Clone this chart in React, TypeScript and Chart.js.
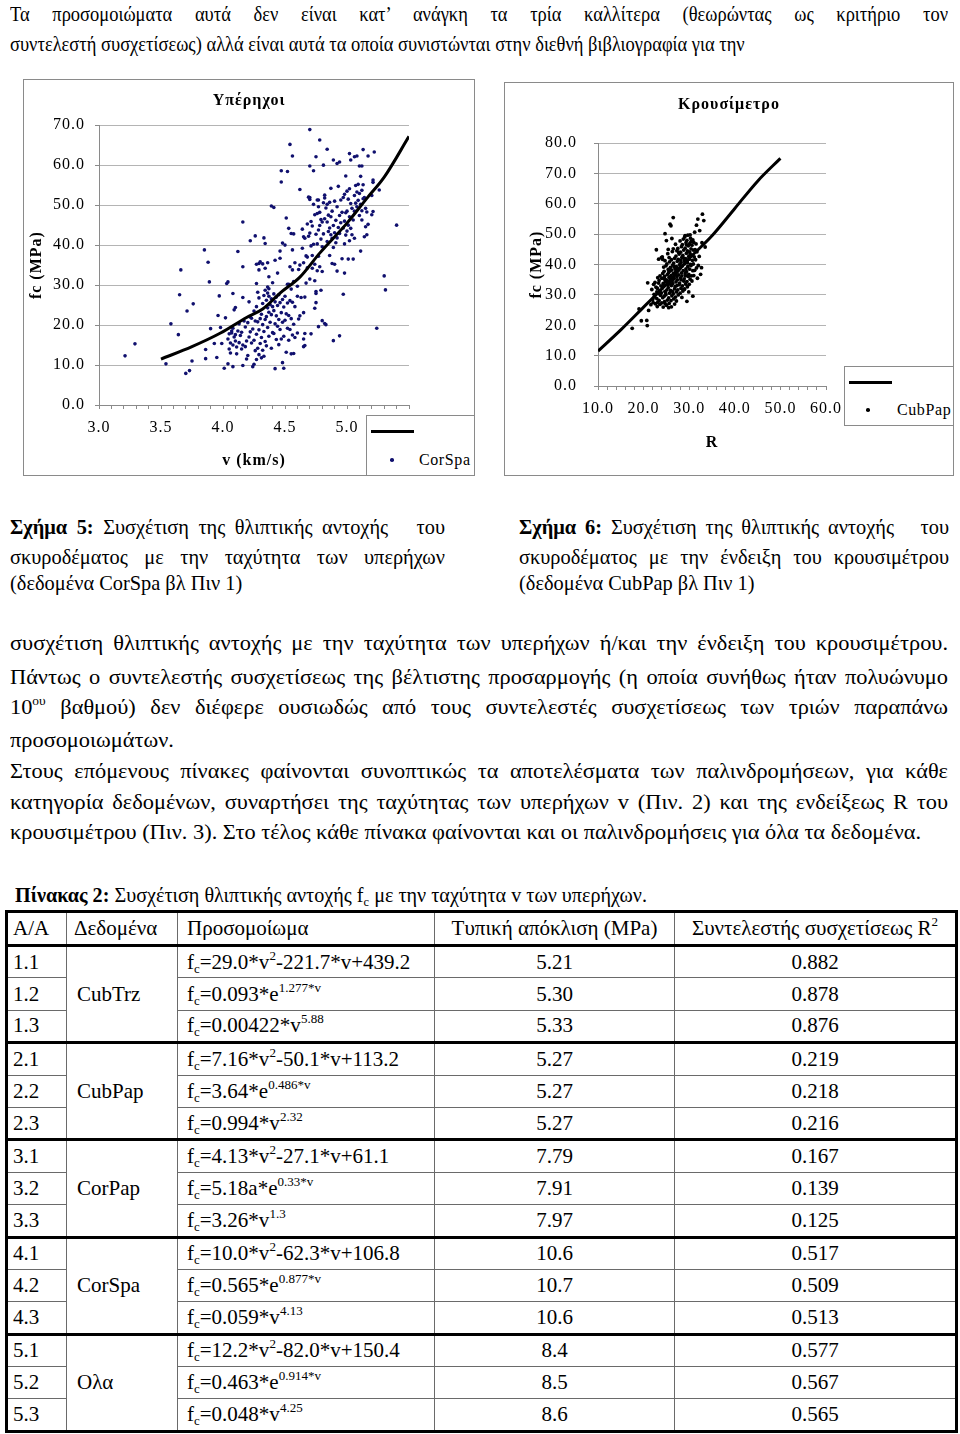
import React, { useEffect, useRef } from "react";
import { Chart, registerables } from "chart.js";
Chart.register(...registerables);

const SERIF = '"Liberation Serif", "Times New Roman", Times, serif';

// ---------- Chart data ----------
const corSpaPoints: number[][] = [
  [3.21,12.3],[3.29,15.3],[3.54,10.3],[3.58,20.3],[3.64,17.6],[3.65,27.6],[3.66,33.8],[3.71,23.5],[3.70,7.9],[3.73,8.6],
  [3.75,11.0],[3.76,25.3],[3.85,38.8],[3.86,13.9],[3.86,11.6],[3.88,35.7],[3.89,30.8],[3.90,19.1],[3.93,15.4],[3.95,11.9],
  [3.97,27.3],[3.96,22.4],[3.98,19.4],[3.99,15.4],[4.01,9.2],[4.02,21.8],[4.03,30.4],[4.04,30.8],[4.04,10.3],[4.08,9.6],
  [4.12,38.4],[4.08,27.9],[4.09,23.8],[4.10,24.4],[4.16,45.8],[4.16,34.6],[4.16,26.9],[4.16,9.9],[4.21,25.8],[4.22,41.1],
  [4.26,42.3],[4.24,9.6],[4.27,30.4],[4.29,35.4],[4.29,33.8],[4.30,35.8],[4.33,41.8],[4.34,40.4],[4.36,35.6],[4.37,29.1],
  [4.39,49.8],[4.41,49.4],[4.37,32.1],[4.42,9.1],[4.46,36.7],[4.47,55.8],[4.47,58.6],[4.49,9.2],[4.48,10.6],[4.51,46.8],
  [4.52,58.4],[4.54,65.2],[4.56,62.3],[4.53,44.2],[4.55,42.9],[4.57,42.8],[4.56,38.8],[4.57,12.9],[4.62,53.9],[4.64,39.2],
  [4.65,23.1],[4.65,14.6],[4.66,17.9],[4.65,42.1],[4.70,68.9],[4.70,59.8],[4.70,51.9],[4.73,58.6],[4.75,62.1],[4.78,66.3],
  [4.76,51.3],[4.77,49.6],[4.81,60.0],[4.84,64.0],[4.82,52.5],[4.87,54.2],[4.89,61.3],[4.92,60.4],[4.94,60.8],[5.02,62.9],
  [5.03,61.3],[5.06,62.1],[5.08,62.3],[5.13,63.9],[5.12,59.8],[5.17,62.3],[5.22,63.3],[5.21,56.3],[5.26,53.8],[5.40,45.0],
  [5.30,32.3],[5.31,28.8],[5.24,19.2],[4.97,27.7],[4.94,17.3],[4.89,16.1],[4.82,20.4],[4.80,21.1],[4.77,19.6],[4.75,27.9],
  [4.74,31.1],[4.72,34.2],[4.71,17.8],[4.66,14.9],
  [4.05,14.0],[4.06,15.5],[4.04,16.5],[4.05,17.8],[4.07,18.5],[4.06,13.0],[4.08,15.0],[4.09,17.0],[4.07,18.0],[4.08,19.2],
  [4.10,16.0],[4.11,14.5],[4.10,17.6],[4.12,18.5],[4.11,12.8],[4.13,15.6],[4.14,17.4],[4.13,20.3],[4.15,14.0],[4.16,15.0],
  [4.15,18.2],[4.17,21.0],[4.18,14.6],[4.19,16.0],[4.18,19.5],[4.19,11.5],[4.20,12.4],[4.21,17.0],[4.20,20.6],[4.22,22.0],
  [4.23,15.5],[4.22,18.3],[4.23,21.7],[4.25,10.2],[4.26,13.6],[4.25,16.2],[4.24,19.0],[4.26,21.0],[4.25,23.5],[4.27,11.4],
  [4.28,14.2],[4.27,17.7],[4.28,20.8],[4.27,24.6],[4.28,28.2],[4.29,12.6],[4.30,15.4],[4.29,18.8],[4.30,21.6],[4.29,26.8],
  [4.31,11.8],[4.32,13.7],[4.31,16.9],[4.32,20.1],[4.31,22.7],[4.32,25.4],[4.33,12.2],[4.34,15.9],[4.33,18.4],[4.34,21.4],
  [4.33,27.4],[4.34,28.7],[4.35,14.8],[4.36,19.4],[4.35,22.1],[4.36,24.3],[4.35,26.2],[4.36,29.5],[4.37,17.2],[4.38,20.7],
  [4.37,23.2],[4.38,25.1],[4.37,27.2],[4.39,14.2],[4.40,18.1],[4.39,22.6],[4.40,24.6],[4.39,26.6],[4.41,17.9],[4.42,20.3],
  [4.41,23.6],[4.42,25.8],[4.41,27.8],[4.43,16.4],[4.44,19.7],[4.43,22.3],[4.44,24.9],[4.43,27.0],[4.45,15.1],[4.46,18.9],
  [4.45,21.4],[4.46,25.6],[4.45,27.6],[4.47,16.5],[4.48,20.7],[4.47,23.1],[4.48,26.4],[4.49,17.2],[4.50,21.2],[4.49,24.5],
  [4.50,27.2],[4.51,13.2],[4.52,19.2],[4.51,22.8],[4.52,25.5],[4.53,16.2],[4.54,18.9],[4.53,22.4],[4.54,26.1],[4.53,30.2],
  [4.55,12.8],[4.56,17.5],[4.55,21.6],[4.56,25.7],[4.55,29.0],[4.58,16.9],[4.57,20.2],[4.58,24.6],[4.57,30.9],[4.60,18.0],
  [4.61,21.5],[4.60,27.2],[4.61,33.9],[4.62,22.3],[4.63,26.9],[4.62,35.0],[4.65,16.5],[4.66,27.0],[4.65,35.6],[4.66,41.7],
  [4.67,30.5],[4.68,34.3],[4.67,37.3],
  [4.68,37.0],[4.69,42.2],[4.68,45.3],[4.69,52.0],[4.70,31.5],[4.71,39.8],[4.70,43.0],[4.71,45.9],[4.70,51.4],[4.72,37.4],
  [4.73,40.2],[4.72,44.8],[4.73,50.2],[4.74,35.2],[4.75,42.7],[4.74,47.6],[4.75,28.4],[4.74,24.2],[4.75,25.6],[4.76,33.6],
  [4.77,37.2],[4.76,40.3],[4.77,43.8],[4.76,47.9],[4.77,51.3],[4.78,34.6],[4.79,41.5],[4.78,44.9],[4.79,46.4],[4.78,48.2],
  [4.79,28.7],[4.80,39.6],[4.81,42.8],[4.80,45.8],[4.81,50.6],[4.80,33.4],[4.82,46.6],[4.83,49.3],[4.82,51.8],[4.83,20.1],
  [4.84,40.9],[4.85,43.4],[4.84,45.8],[4.85,47.5],[4.84,50.2],[4.86,37.4],[4.87,42.6],[4.86,44.3],[4.87,47.1],[4.86,50.7],
  [4.88,35.4],[4.89,39.4],[4.88,41.7],[4.89,44.9],[4.88,48.5],[4.90,35.2],[4.91,40.6],[4.90,43.1],[4.91,46.2],[4.90,51.0],
  [4.92,41.8],[4.93,44.4],[4.92,49.6],[4.93,54.7],[4.92,33.5],[4.94,42.9],[4.95,45.6],[4.94,47.4],[4.95,51.3],[4.96,36.6],
  [4.97,44.3],[4.96,48.2],[4.97,51.9],[4.98,40.3],[4.99,42.5],[4.98,46.0],[4.99,48.1],[4.98,52.7],[4.99,57.3],[4.98,33.0],
  [5.00,43.5],[5.01,45.0],[5.00,48.5],[5.01,51.5],[5.00,53.5],[5.01,36.5],[5.02,41.1],[5.03,44.2],[5.02,47.1],[5.03,50.4],
  [5.02,54.1],[5.04,42.6],[5.05,46.3],[5.04,49.2],[5.05,36.5],[5.06,48.5],[5.07,50.5],[5.06,52.4],[5.07,54.9],[5.06,41.7],
  [5.08,49.6],[5.09,51.2],[5.08,53.3],[5.09,55.2],[5.10,47.4],[5.11,50.2],[5.10,52.9],[5.11,57.2],[5.10,59.8],[5.11,38.5],
  [5.12,48.6],[5.13,51.6],[5.12,53.7],[5.13,55.1],[5.12,46.3],[5.14,42.1],[5.15,44.6],[5.14,51.9],[5.15,49.2],[5.16,42.6],
  [5.17,45.2],[5.16,48.3],[5.20,47.6],[5.21,48.4],[5.20,52.4],[5.21,55.7],
  [4.32,35.3],[4.34,34.2],[4.36,28.0],[4.42,36.2],[4.44,33.0],[4.48,40.5],[4.50,40.0],[4.52,30.2],[4.54,34.6],[4.56,33.8],
  [4.58,35.6],[4.60,29.7],[4.64,44.0],[4.46,38.5],[4.40,30.6],[4.27,35.2],
];

const corSpaFit: number[][] = [
  [3.50,11.5],[3.75,14.6],[3.98,18.0],[4.19,21.9],[4.32,24.0],[4.46,28.0],[4.62,32.0],[4.78,38.0],[5.00,45.5],[5.16,51.7],[5.30,57.0],[5.50,67.2],
];

const cubPapPoints: number[][] = [
  [17.5,19.0],[19.0,25.4],[19.5,21.5],[20.7,21.6],[20.8,19.9],[21.1,24.9],[20.9,34.0],[22.8,44.9],[24.7,50.2],[26.5,55.5],
  [25.8,53.3],[32.9,56.6],[31.9,55.0],[33.2,54.5],[31.6,53.0],[32.7,39.0],[30.8,29.6],[29.5,27.9],[26.1,26.1],[24.7,27.2],
  [21.6,26.8],[22.1,27.5],[32.3,51.2],[31.2,50.7],[24.2,41.7],[23.9,42.3],[33.5,45.8],[32.8,47.2],[26.0,52.8],[25.4,45.0],
  [29.1,49.5],[30.2,49.8],
  [22.0,28.5],[22.3,30.2],[21.8,31.8],[22.2,33.5],[22.6,27.1],[22.4,29.4],[22.9,31.0],[22.7,32.6],[22.5,34.1],
  [23.1,27.6],[22.9,28.8],[23.2,30.5],[23.0,32.2],[23.3,33.9],[23.1,35.7],[23.6,26.9],[23.4,28.2],[23.7,29.9],[23.5,31.4],
  [23.8,33.0],[23.4,34.8],[23.6,36.3],[23.3,41.8],
  [24.0,27.4],[24.2,29.1],[23.9,30.7],[24.1,32.3],[24.3,33.8],[24.0,35.5],[24.2,37.1],[24.4,39.2],[24.1,42.5],[24.6,27.8],
  [24.5,29.6],[24.7,31.2],[24.4,32.9],[24.8,34.4],[24.6,36.1],[24.5,37.8],[24.9,39.6],[24.7,41.3],
  [25.0,26.6],[25.2,28.3],[24.9,30.1],[25.1,31.7],[25.3,33.3],[25.0,35.0],[25.2,36.7],[25.4,38.4],[25.1,40.2],[25.3,43.6],
  [25.0,47.9],[25.6,27.2],[25.5,29.0],[25.7,30.6],[25.4,32.4],[25.8,34.0],[25.6,35.8],[25.5,37.4],[25.9,39.1],[25.7,40.9],[25.6,42.3],
  [26.0,28.1],[26.2,29.7],[25.9,31.5],[26.1,33.1],[26.3,34.8],[26.0,36.4],[26.2,38.2],[26.4,39.9],[26.1,41.6],[26.3,44.3],
  [26.2,48.6],[26.6,28.7],[26.5,30.4],[26.8,32.0],[26.4,33.7],[26.7,35.4],[26.5,37.0],[26.9,38.7],[26.6,40.5],[26.8,42.1],[26.5,45.2],
  [27.0,29.3],[27.2,31.0],[26.9,32.7],[27.1,34.3],[27.3,36.0],[27.0,37.7],[27.2,39.3],[27.4,41.1],[27.1,42.8],[27.3,44.6],
  [27.0,46.7],[27.6,30.0],[27.5,31.7],[27.8,33.4],[27.4,35.0],[27.7,36.6],[27.5,38.3],[27.9,40.0],[27.6,41.7],[27.8,43.5],[27.5,45.3],
  [28.0,30.6],[28.2,32.2],[27.9,33.9],[28.1,35.6],[28.3,37.3],[28.0,39.0],[28.2,40.7],[28.4,42.4],[28.1,44.1],[28.3,45.9],
  [28.0,47.8],[28.6,31.3],[28.5,33.0],[28.8,34.6],[28.4,36.3],[28.7,38.0],[28.5,39.6],[28.9,41.3],[28.6,43.0],[28.8,44.8],
  [28.5,46.6],[28.7,48.4],
  [29.0,32.0],[29.2,33.6],[28.9,35.3],[29.1,37.0],[29.3,38.6],[29.0,40.3],[29.2,42.0],[29.4,43.7],[29.1,45.4],[29.3,47.2],
  [29.0,49.1],[29.6,32.7],[29.5,34.4],[29.8,36.1],[29.4,37.7],[29.7,39.4],[29.5,41.1],[29.9,42.7],[29.6,44.5],[29.8,46.2],
  [29.5,48.0],[29.7,49.7],
  [30.0,33.5],[30.2,35.2],[29.9,36.8],[30.1,38.5],[30.3,40.1],[30.0,41.8],[30.2,43.5],[30.4,45.2],[30.1,46.9],[30.3,48.7],
  [30.6,34.6],[30.5,36.3],[30.8,38.0],[30.4,39.7],[30.7,41.4],[30.5,43.1],[30.9,44.8],[30.6,46.4],[30.8,48.1],
  [31.0,36.4],[31.2,38.1],[30.9,40.2],[31.1,42.5],[31.3,44.9],[31.0,47.3],[31.6,38.9],[31.4,41.6],[31.7,44.2],[31.5,46.8],
  [32.0,39.7],[32.2,42.7],[23.0,26.2],[24.3,26.0],[25.5,25.8],[26.8,27.0],[27.2,28.0],[28.4,29.2],[29.9,31.0],[31.8,35.5],[32.5,36.8],
  [24.8,30.8],[25.3,34.6],[25.8,37.9],[26.3,31.2],[26.7,39.4],[27.3,33.1],[27.7,44.0],[28.2,35.0],[28.7,42.2],[29.2,36.3],
  [29.6,40.7],[30.1,44.2],[26.9,36.9],[27.4,38.8],[28.1,41.5],[25.9,33.6],[24.6,35.2],[29.4,46.5],[30.4,47.6],[28.9,31.8],
];

const cubPapFit: number[][] = [
  [10,11.5],[15,18.5],[20,26.0],[25,33.5],[30,42.0],[35,49.5],[40,58.5],[45,67.5],[50,75.0],
];

// ---------- Table data ----------
const rowIds = ["1.1","1.2","1.3","2.1","2.2","2.3","3.1","3.2","3.3","4.1","4.2","4.3","5.1","5.2","5.3"];
const groupNames = ["CubTrz","CubPap","CorPap","CorSpa","Ολα"];
const formulas = [
  "f_{c}=29.0*v^{2}-221.7*v+439.2","f_{c}=0.093*e^{1.277*v}","f_{c}=0.00422*v^{5.88}",
  "f_{c}=7.16*v^{2}-50.1*v+113.2","f_{c}=3.64*e^{0.486*v}","f_{c}=0.994*v^{2.32}",
  "f_{c}=4.13*v^{2}-27.1*v+61.1","f_{c}=5.18a*e^{0.33*v}","f_{c}=3.26*v^{1.3}",
  "f_{c}=10.0*v^{2}-62.3*v+106.8","f_{c}=0.565*e^{0.877*v}","f_{c}=0.059*v^{4.13}",
  "f_{c}=12.2*v^{2}-82.0*v+150.4","f_{c}=0.463*e^{0.914*v}","f_{c}=0.048*v^{4.25}",
];
const stdDevs = ["5.21","5.30","5.33","5.27","5.27","5.27","7.79","7.91","7.97","10.6","10.7","10.6","8.4","8.5","8.6"];
const r2Values = ["0.882","0.878","0.876","0.219","0.218","0.216","0.167","0.139","0.125","0.517","0.509","0.513","0.577","0.567","0.565"];

// ---------- Chart component ----------
type Axis = { min: number; max: number; step: number; minor: number; title: string };
type Spec = {
  w: number; h: number; title: string; label: string; dot: string; dotR: number;
  points: number[][]; fit: number[][]; x: Axis; y: Axis;
  padRight: number; titlePad: [number, number]; yWidth: number; yTitlePad: number; yTickPad: number;
  xHeight: number; xTitlePad: number;
};

const LS = "1px";

function ScatterChart({ spec }: { spec: Spec }) {
  const ref = useRef<HTMLCanvasElement>(null);
  useEffect(() => {
    const f = (size: number, bold = false) => ({ family: SERIF, size, weight: bold ? ("bold" as const) : ("normal" as const), lineHeight: 1.2 });
    const spacing = {
      id: "letterSpacing",
      beforeUpdate(c: any) { c.ctx.letterSpacing = LS; },
      beforeDraw(c: any) { c.ctx.letterSpacing = LS; },
    };
    const sx = spec.x, sy = spec.y;
    const chart = new Chart(ref.current as HTMLCanvasElement, {
      type: "scatter",
      data: {
        datasets: [
          {
            label: "fit",
            data: spec.fit.map(([x, y]) => ({ x, y })),
            showLine: true,
            borderColor: "#000",
            borderWidth: 3,
            pointRadius: 0,
            cubicInterpolationMode: "monotone",
            fill: false,
          } as any,
          {
            label: spec.label,
            data: spec.points.map(([x, y]) => ({ x, y })),
            pointRadius: spec.dotR,
            pointBackgroundColor: spec.dot,
            pointBorderWidth: 0,
            showLine: false,
          } as any,
        ],
      },
      options: {
        animation: false,
        responsive: false,
        maintainAspectRatio: false,
        events: [],
        layout: { padding: 0 },
        plugins: {
          legend: { display: false },
          tooltip: { enabled: false },
          title: {
            display: true,
            text: spec.title,
            color: "#000",
            font: f(16, true),
            padding: { top: spec.titlePad[0], bottom: spec.titlePad[1] },
          },
        },
        scales: {
          x: {
            type: "linear",
            min: sx.min,
            max: sx.max,
            afterFit: (s: any) => { s.height = spec.xHeight; },
            afterBuildTicks: (s: any) => {
              const t: { value: number }[] = [];
              const n = Math.round((sx.max - sx.min) / sx.minor);
              for (let i = 0; i <= n; i++) t.push({ value: +(sx.min + i * sx.minor).toFixed(4) });
              s.ticks = t;
            },
            ticks: {
              autoSkip: false,
              maxRotation: 0,
              minRotation: 0,
              padding: 9,
              color: "#000",
              font: f(16),
              callback: (v: any) => {
                const k = (Number(v) - sx.min) / sx.step;
                return Math.abs(k - Math.round(k)) < 1e-6 ? Number(v).toFixed(1) : "";
              },
            },
            grid: { drawOnChartArea: false, drawTicks: true, tickLength: 4, color: "#8a8a8a" },
            border: { display: true, color: "#8a8a8a", width: 1 },
            title: { display: true, text: sx.title, color: "#000", font: f(16, true), padding: { top: 0, bottom: spec.xTitlePad } },
          },
          y: {
            type: "linear",
            position: "left",
            min: sy.min,
            max: sy.max,
            afterFit: (s: any) => { s.width = spec.yWidth; },
            ticks: {
              stepSize: sy.step,
              padding: spec.yTickPad,
              color: "#000",
              font: f(16),
              callback: (v: any) => Number(v).toFixed(1),
            },
            grid: { color: "#b4b4b4", lineWidth: 1, tickLength: 4, tickColor: "#8a8a8a" },
            border: { display: true, color: "#8a8a8a", width: 1 },
            title: { display: true, text: sy.title, color: "#000", font: f(16, true), padding: { top: spec.yTitlePad, bottom: 0 } },
          },
          yPad: {
            type: "linear",
            axis: "y",
            position: "right",
            display: false,
            afterFit: (s: any) => { s.width = spec.padRight; },
          },
        },
      } as any,
      plugins: [spacing as any],
    });
    return () => chart.destroy();
  }, []);
  return <canvas ref={ref} width={spec.w} height={spec.h} style={{ display: "block", width: spec.w, height: spec.h }} />;
}

const leftSpec: Spec = {
  w: 450, h: 395, title: "Υπέρηχοι", label: "CorSpa", dot: "#10106e", dotR: 1.8,
  points: corSpaPoints, fit: corSpaFit,
  x: { min: 3.0, max: 5.5, step: 0.5, minor: 0.1, title: "v (km/s)" },
  y: { min: 0, max: 70, step: 10, minor: 10, title: "fc (MPa)" },
  padRight: 65, titlePad: [11, 15], yWidth: 75, yTitlePad: 3, yTickPad: 10, xHeight: 70, xTitlePad: 5,
};

const rightSpec: Spec = {
  w: 448, h: 392, title: "Κρουσίμετρο", label: "CubPap", dot: "#000", dotR: 1.9,
  points: cubPapPoints, fit: cubPapFit,
  x: { min: 10, max: 60, step: 10, minor: 2, title: "R" },
  y: { min: 0, max: 80, step: 10, minor: 10, title: "fc (MPa)" },
  padRight: 127, titlePad: [12, 29], yWidth: 93, yTitlePad: 22, yTickPad: 17, xHeight: 89, xTitlePad: 23,
};

// ---------- Text helpers ----------
function TL({ x, y, w, j, size = 21, sx = 0.88, children }: any) {
  return (
    <div
      style={{
        position: "absolute", left: x, top: y - 15, height: 30, lineHeight: "30px",
        width: w / sx, fontSize: size, transform: `scaleX(${sx})`, transformOrigin: "left center",
        textAlign: j ? "justify" : "left", textAlignLast: j ? "justify" : "left", color: "#000",
      } as any}
    >
      {children}
    </div>
  );
}

function Formula({ s }: { s: string }) {
  const parts = s.split(/(_\{[^}]*\}|\^\{[^}]*\})/).filter((p) => p.length);
  return (
    <>
      {parts.map((p, i) =>
        p.startsWith("_{") ? (
          <span key={i} style={{ fontSize: "0.62em", verticalAlign: "-0.3em", lineHeight: 0 }}>{p.slice(2, -1)}</span>
        ) : p.startsWith("^{") ? (
          <span key={i} style={{ fontSize: "0.62em", verticalAlign: "0.7em", lineHeight: 0 }}>{p.slice(2, -1)}</span>
        ) : (
          <span key={i}>{p}</span>
        )
      )}
    </>
  );
}

function Legend({ left, top, w, h, lineTop, dotX, dotY, dot, text }: any) {
  return (
    <>
      <div style={{ position: "absolute", left, top, width: w, height: h, border: "1px solid #8a8a8a", background: "#fff", boxSizing: "border-box" }} />
      <div style={{ position: "absolute", left: left + 5, top: lineTop - 1.5, width: 43, height: 3, background: "#000" }} />
      <div style={{ position: "absolute", left: dotX - 1.7, top: dotY - 1.7, width: 3.6, height: 3.6, borderRadius: "50%", background: dot }} />
      <div style={{ position: "absolute", left: left + 53, top: dotY - 11, height: 22, lineHeight: "22px", fontSize: 16, letterSpacing: "0.6px", fontFamily: SERIF, color: "#000" }}>{text}</div>
    </>
  );
}

function DataTable() {
  const colW = [60, 111, 257, 240, 282];
  const thin = "1px solid #6a6a6a";
  const thick = "3px solid #000";
  const cell = (extra: any) => ({ padding: "0 0 0 7px", fontSize: 21, verticalAlign: "middle", border: thin, whiteSpace: "nowrap", ...extra });
  return (
    <table
      style={{
        position: "absolute", left: 5, top: 910, width: 950, borderCollapse: "collapse", tableLayout: "fixed",
        border: thick, fontFamily: SERIF, color: "#000",
      }}
    >
      <colgroup>{colW.map((w, i) => <col key={i} style={{ width: w }} />)}</colgroup>
      <tbody>
        <tr style={{ height: 34 }}>
          <td style={cell({ borderBottom: thick, paddingLeft: 5 })}>A/A</td>
          <td style={cell({ borderBottom: thick })}>Δεδομένα</td>
          <td style={cell({ borderBottom: thick, paddingLeft: 9 })}>Προσομοίωμα</td>
          <td style={cell({ borderBottom: thick, textAlign: "center", padding: 0 })}>Τυπική απόκλιση (MPa)</td>
          <td style={cell({ borderBottom: thick, textAlign: "center", padding: 0 })}>
            Συντελεστής συσχετίσεως R<span style={{ fontSize: "0.62em", verticalAlign: "0.7em", lineHeight: 0 }}>2</span>
          </td>
        </tr>
        {rowIds.map((id, i) => {
          const first = i % 3 === 0;
          const top = first && i > 0 ? { borderTop: thick } : {};
          return (
            <tr key={id} style={{ height: 32.4 }}>
              <td style={cell({ ...top, paddingLeft: 5 })}>{id}</td>
              {first && (
                <td rowSpan={3} style={cell({ ...top, paddingLeft: 10 })}>{groupNames[i / 3]}</td>
              )}
              <td style={cell({ ...top, paddingLeft: 9 })}><Formula s={formulas[i]} /></td>
              <td style={cell({ ...top, textAlign: "center", padding: 0 })}>{stdDevs[i]}</td>
              <td style={cell({ ...top, textAlign: "center", padding: 0 })}>{r2Values[i]}</td>
            </tr>
          );
        })}
      </tbody>
    </table>
  );
}

const CAP = 0.97;
const PAR = 1.065;

export default function App() {
  return (
    <div style={{ position: "absolute", left: 0, top: 0, width: 960, height: 1434, background: "#fff", fontFamily: SERIF, overflow: "hidden" }}>
      <TL x={10} y={14} w={938} j>Τα προσομοιώματα αυτά δεν είναι κατ’ ανάγκη τα τρία καλλίτερα (θεωρώντας ως κριτήριο τον</TL>
      <TL x={10} y={44} w={938}>συντελεστή συσχετίσεως) αλλά είναι αυτά τα οποία συνιστώνται στην διεθνή βιβλιογραφία για την</TL>

      <div style={{ position: "absolute", left: 23, top: 79, width: 452, height: 397, border: "1px solid #8a8a8a", boxSizing: "border-box", background: "#fff" }}>
        <ScatterChart spec={leftSpec} />
      </div>
      <div style={{ position: "absolute", left: 504, top: 82, width: 450, height: 394, border: "1px solid #8a8a8a", boxSizing: "border-box", background: "#fff" }}>
        <ScatterChart spec={rightSpec} />
      </div>
      <Legend left={366} top={415} w={109} h={61} lineTop={431} dotX={392} dotY={460} dot="#10106e" text="CorSpa" />
      <Legend left={844} top={366} w={110} h={60} lineTop={382} dotX={868} dotY={410} dot="#000" text="CubPap" />

      <TL x={10} y={527} w={435} j sx={CAP}><b>Σχήμα 5:</b> Συσχέτιση της θλιπτικής αντοχής &nbsp; του</TL>
      <TL x={10} y={557} w={435} j sx={CAP}>σκυροδέματος με την ταχύτητα των υπερήχων</TL>
      <TL x={10} y={583} w={435} sx={CAP}>(δεδομένα CorSpa βλ Πιν 1)</TL>
      <TL x={519} y={527} w={430} j sx={CAP}><b>Σχήμα 6:</b> Συσχέτιση της θλιπτικής αντοχής &nbsp; του</TL>
      <TL x={519} y={557} w={430} j sx={CAP}>σκυροδέματος με την ένδειξη του κρουσιμέτρου</TL>
      <TL x={519} y={583} w={430} sx={CAP}>(δεδομένα CubPap βλ Πιν 1)</TL>

      <TL x={10} y={643} w={938} j sx={PAR}>συσχέτιση θλιπτικής αντοχής με την ταχύτητα των υπερήχων ή/και την ένδειξη του κρουσιμέτρου.</TL>
      <TL x={10} y={677} w={938} j sx={PAR}>Πάντως ο συντελεστής συσχετίσεως της βέλτιστης προσαρμογής (η οποία συνήθως ήταν πολυώνυμο</TL>
      <TL x={10} y={707} w={938} j sx={PAR}>10<span style={{ fontSize: "0.6em", verticalAlign: "0.7em", lineHeight: 0 }}>ου</span> βαθμού) δεν διέφερε ουσιωδώς από τους συντελεστές συσχετίσεως των τριών παραπάνω</TL>
      <TL x={10} y={740} w={938} sx={PAR}>προσομοιωμάτων.</TL>
      <TL x={10} y={771} w={938} j sx={PAR}>Στους επόμενους πίνακες φαίνονται συνοπτικώς τα αποτελέσματα των παλινδρομήσεων, για κάθε</TL>
      <TL x={10} y={802} w={938} j sx={PAR}>κατηγορία δεδομένων, συναρτήσει της ταχύτητας των υπερήχων v (Πιν. 2) και της ενδείξεως R του</TL>
      <TL x={10} y={832} w={938} sx={PAR}>κρουσιμέτρου (Πιν. 3). Στο τέλος κάθε πίνακα φαίνονται και οι παλινδρομήσεις για όλα τα δεδομένα.</TL>

      <TL x={15} y={895} w={900} sx={0.96}><b>Πίνακας 2:</b> Συσχέτιση θλιπτικής αντοχής <Formula s="f_{c}" /> με την ταχύτητα v των υπερήχων.</TL>

      <DataTable />
    </div>
  );
}
